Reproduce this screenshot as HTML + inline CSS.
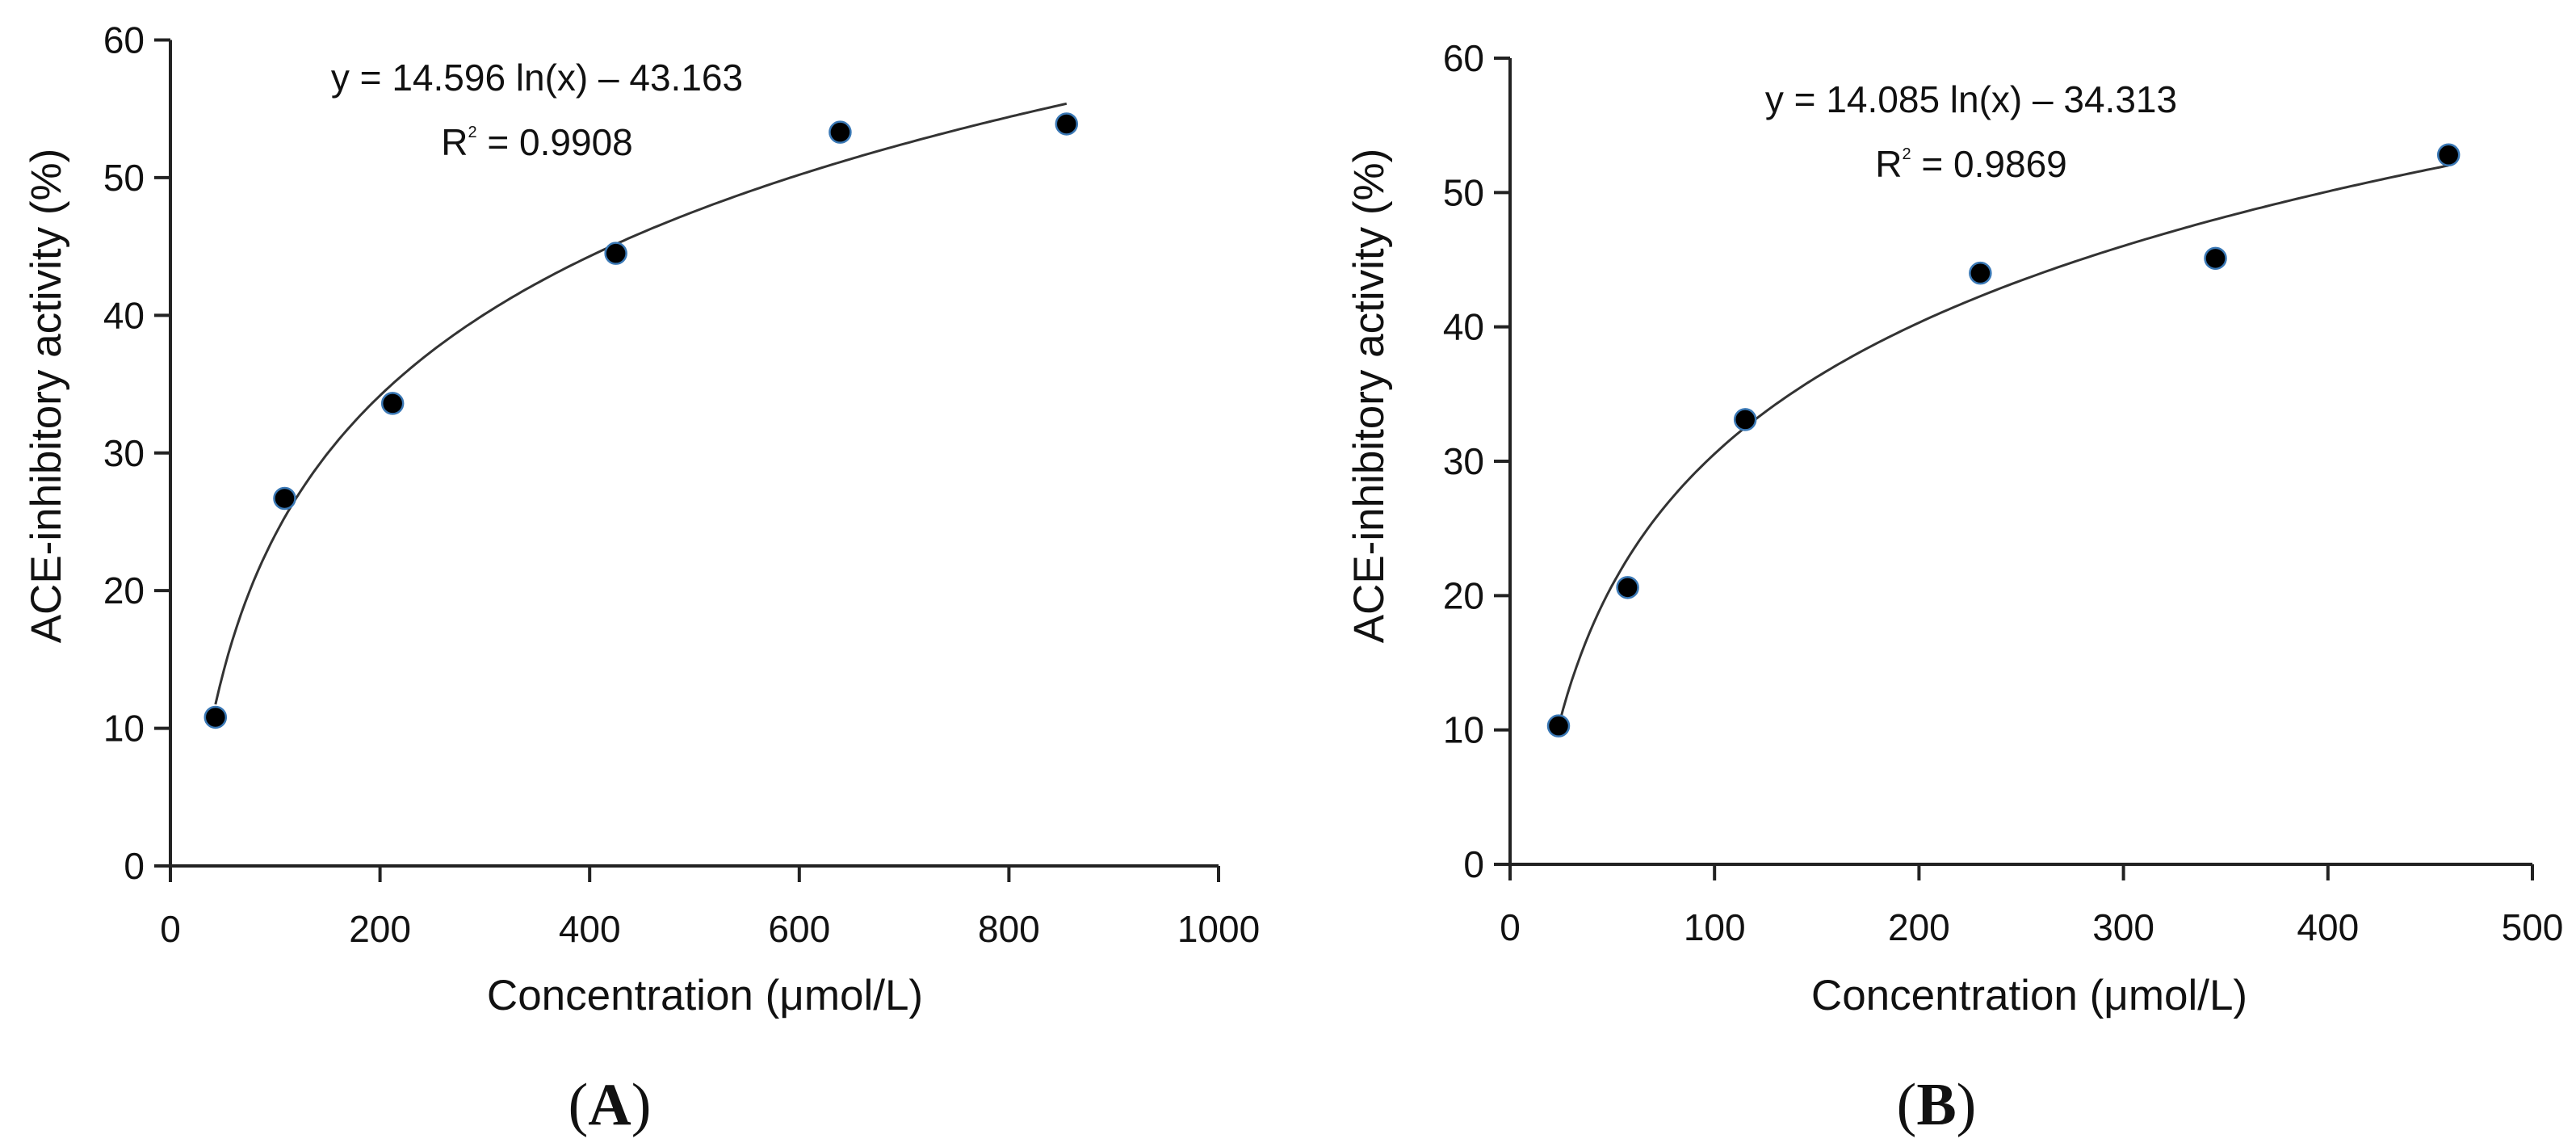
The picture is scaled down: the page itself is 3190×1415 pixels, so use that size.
<!DOCTYPE html>
<html><head><meta charset="utf-8"><style>
html,body{margin:0;padding:0;background:#fff;}
svg text{font-family:"Liberation Sans",Arial,sans-serif;fill:#111;}
</style></head><body>
<svg id="root" width="3190" height="1410" viewBox="0 0 3190 1410" xmlns="http://www.w3.org/2000/svg"></svg>
<script>
// Panel A data
const concA = [43, 109, 212, 425, 639, 855];
const actA = [10.8, 26.7, 33.6, 44.5, 53.3, 53.9];
const xTicksA = [0, 200, 400, 600, 800, 1000];
// Panel B data
const concB = [23.7, 57.5, 115, 230, 345, 459];
const actB = [10.3, 20.6, 33.1, 44.0, 45.1, 52.8];
const xTicksB = [0, 100, 200, 300, 400, 500];
const yTicks = [0, 10, 20, 30, 40, 50, 60];
const fitA = [14.596, -43.163];
const fitB = [14.085, -34.313];

const NS = 'http://www.w3.org/2000/svg';
const root = document.getElementById('root');
function mk(tag, attrs, parent, text) {
  const e = document.createElementNS(NS, tag);
  for (const k in attrs) e.setAttribute(k, attrs[k]);
  if (text !== undefined) e.textContent = text;
  (parent || root).appendChild(e);
  return e;
}

function panel(cfg) {
  const g = mk('g', {});
  
  
  const sx = v => cfg.x0 + (v - cfg.xMin) / (cfg.xMax - cfg.xMin) * (cfg.x1 - cfg.x0);
  const sy = v => cfg.y0 - v / 60 * (cfg.y0 - cfg.y60);
  const ya = mk('line', {x1: cfg.x0, y1: sy(60), x2: cfg.x0, y2: cfg.y0 + 20, stroke: '#222', 'stroke-width': 4}, g);
  
  
  const xa = mk('line', {x1: cfg.x0 - 20, y1: cfg.y0, x2: cfg.x1, y2: cfg.y0, stroke: '#222', 'stroke-width': 4}, g);
  
  
  yTicks.forEach(t => {
    const y = sy(t);
    mk('line', {x1: cfg.x0 - 20, y1: y, x2: cfg.x0, y2: y, stroke: '#222', 'stroke-width': 4}, g);
    const tl = mk('text', {x: cfg.x0 - 32, y: y + 16, 'text-anchor': 'end', 'font-size': 46}, g, String(t));
    
    
  });
  cfg.xTicks.forEach(t => {
    const x = sx(t);
    mk('line', {x1: x, y1: cfg.y0, x2: x, y2: cfg.y0 + 20, stroke: '#222', 'stroke-width': 4}, g);
    const tl = mk('text', {x: x, y: cfg.y0 + 94, 'text-anchor': 'middle', 'font-size': 46}, g, String(t));
    
    
  });
  const xs = cfg.conc[0], xe = cfg.conc[cfg.conc.length - 1];
  let d = '';
  for (let i = 0; i <= 200; i++) {
    const v = xs + (xe - xs) * i / 200;
    const yv = cfg.fit[0] * Math.log(v) + cfg.fit[1];
    d += (i ? 'L' : 'M') + sx(v).toFixed(1) + ',' + sy(yv).toFixed(1);
  }
  const c = mk('path', {d: d, fill: 'none', stroke: '#333', 'stroke-width': 3}, g);
  
  
  cfg.conc.forEach((v, i) => {
    const p = mk('circle', {cx: sx(v), cy: sy(cfg.act[i]), r: 13, fill: '#000', stroke: '#3a78b5', 'stroke-width': 2.5}, g);
    
    
  });
  const eq = mk('text', {x: cfg.eqX, y: cfg.eqY, 'text-anchor': 'middle', 'font-size': 46}, g, cfg.eq);
  
  
  const r2 = mk('text', {x: cfg.eqX, y: cfg.eqY + 80, 'text-anchor': 'middle', 'font-size': 46}, g);
  
  
  mk('tspan', {}, r2, 'R');
  mk('tspan', {dy: -22, 'font-size': 20}, r2, '2');
  mk('tspan', {dy: 22}, r2, ' = ' + cfg.r2);
  const xt = mk('text', {x: cfg.xtX, y: 1250, 'text-anchor': 'middle', 'font-size': 53}, g, 'Concentration (μmol/L)');
  
  
  const yt = mk('text', {x: 0, y: 0, 'text-anchor': 'middle', 'font-size': 53, transform: 'translate(' + cfg.ytX + ',' + cfg.ytY + ') rotate(-90)'}, g, 'ACE-inhibitory activity (%)');
  
  
  const pl = mk('text', {x: cfg.plX, y: 1392, 'text-anchor': 'middle', style: 'font-family:"Liberation Serif",serif;font-weight:bold;font-size:74px'}, g);
  
  
  mk('tspan', {style: 'font-weight:normal'}, pl, '(');
  mk('tspan', {}, pl, cfg.label);
  mk('tspan', {style: 'font-weight:normal'}, pl, ')');
}

panel({name: 'panel-a', x0: 211, x1: 1509, xMin: 0, xMax: 1000, y0: 1072, y60: 49.5,
  conc: concA, act: actA, xTicks: xTicksA, fit: fitA,
  eq: 'y = 14.596 ln(x) \u2013 43.163', r2: '0.9908', eqX: 665, eqY: 112,
  xtX: 873, ytX: 75, ytY: 490, plX: 755, label: 'A'});
panel({name: 'panel-b', x0: 1870, x1: 3136, xMin: 0, xMax: 500, y0: 1070, y60: 72,
  conc: concB, act: actB, xTicks: xTicksB, fit: fitB,
  eq: 'y = 14.085 ln(x) \u2013 34.313', r2: '0.9869', eqX: 2441, eqY: 139,
  xtX: 2513, ytX: 1713, ytY: 490, plX: 2398, label: 'B'});
</script>
</body></html>
